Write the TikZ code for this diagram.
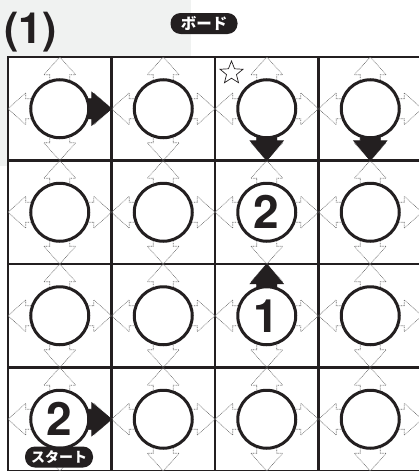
\documentclass[tikz,border=0pt]{standalone}
\usepackage{fontspec}
\setmainfont{TeX Gyre Heros}
\newfontfamily\jpfont{Noto Sans CJK JP}
\usetikzlibrary{shapes.geometric}

\definecolor{ink}{HTML}{231F20}
\definecolor{panel}{HTML}{F0F2F1}
\definecolor{guide}{HTML}{6E6E6E}

\tikzset{
    cell/.style={draw=ink, line width=2.8pt, fill=white, minimum size=103.5pt, inner sep=0pt},
    disc/.style={circle, draw=ink, line width=3pt, fill=white, minimum size=58pt,
                 inner sep=0pt, text=ink, font=\bfseries\fontsize{46}{46}\selectfont},
    guidearr/.style={draw=guide, line width=0.6pt, dash pattern=on 0.8pt off 0.8pt},
    movearr/.style={fill=ink, draw=ink, line width=0.8pt, line join=miter},
    tag/.style={fill=ink, text=white, rounded corners=10pt, minimum height=21pt, inner sep=0pt,
                font=\jpfont\bfseries\fontsize{15.5}{15.5}\selectfont}
}

\begin{document}
\begin{tikzpicture}[x=1pt, y=-1pt]
    \clip (0,0) rectangle (419,471);
    \fill[panel] (0,0) rectangle (191,166);

    % board cells
    \foreach \r in {1,...,4}
        \foreach \c in {1,...,4}
            \node[cell] (b\r\c) at ({8+103.5*(\c-0.5)},{57+103.5*(\r-0.5)}) {};

    % possible moves (dotted)
    \foreach \r in {1,...,4}
        \foreach \c in {1,...,4}
            \foreach \a in {0,90,180,270}
                \draw[guidearr, shift={(b\r\c.center)}, rotate=\a]
                    (29,10) -- (34,10) -- (34,16) -- (51.75,0) -- (34,-16) -- (34,-10) -- (29,-10);

    % fixed moves
    \foreach \r/\c/\a in {1/1/0, 1/3/270, 1/4/270, 3/3/90, 4/1/0}
        \filldraw[movearr, shift={(b\r\c.center)}, rotate=\a]
            (24,-10) -- (32,-10) -- (32,-16.5) -- (51.75,0) -- (32,16.5) -- (32,10) -- (24,10) -- cycle;

    % pieces
    \foreach \r/\c/\n in {1/1/, 1/2/, 1/3/, 1/4/,
                          2/1/, 2/2/, 2/3/2, 2/4/,
                          3/1/, 3/2/, 3/3/1, 3/4/,
                          4/1/2, 4/2/, 4/3/, 4/4/}
        \node[disc] (d\r\c) at (b\r\c) {\n};

    \node[star, star points=5, star point ratio=2.3, draw=ink, line width=0.7pt,
          minimum size=24pt, inner sep=0pt] (goal) at (231.5,73) {};

    \node[anchor=base west, inner sep=0pt, text=ink,
          font=\bfseries\fontsize{43}{43}\selectfont] (title) at (4,43) {(1)};
    \node[tag, minimum width=67pt] (board) at (204,23.5) {ボード};
    \node[tag, minimum width=68pt, font=\jpfont\bfseries\fontsize{14}{14}\selectfont]
        (start) at (59,457) {スタート};
\end{tikzpicture}
\end{document}
